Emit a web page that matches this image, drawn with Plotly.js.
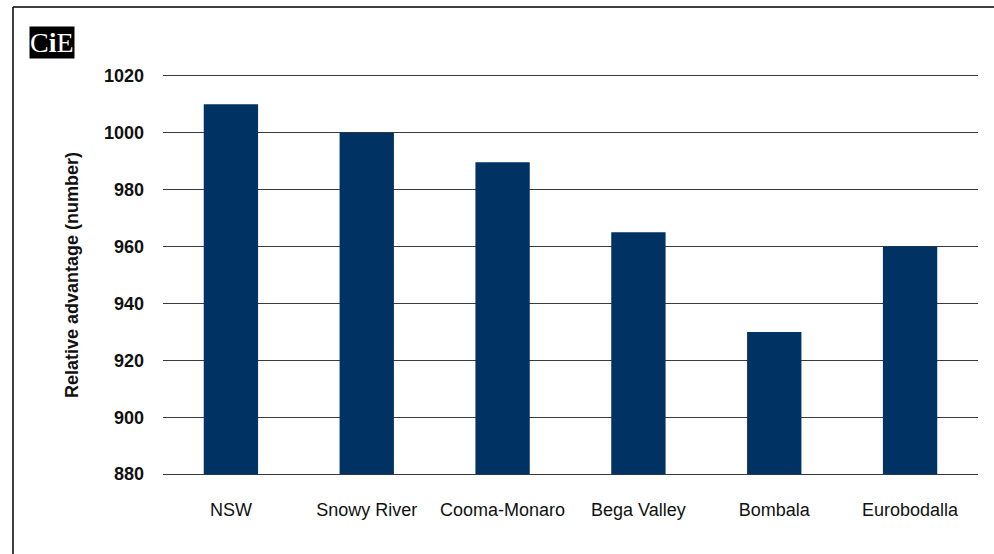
<!DOCTYPE html>
<html>
<head>
<meta charset="utf-8">
<script src="https://cdn.plot.ly/plotly-3.0.1.min.js"></script>
<style>
  html, body { margin: 0; padding: 0; background: #ffffff; }
  #chart { width: 994px; height: 554px; }
</style>
</head>
<body>
<div id="chart"></div>
<script>
const categories = ['NSW', 'Snowy River', 'Cooma-Monaro', 'Bega Valley', 'Bombala', 'Eurobodalla'];
const values = [1010, 1000, 989.6, 965, 930, 960];
const yTickVals = [880, 900, 920, 940, 960, 980, 1000, 1020];
const yTitle = 'Relative advantage (number)';
const logoText = 'C<b>i</b>E';
const axisBase = yTickVals[0];

const W = 994, H = 554;
const M = { l: 163, r: 16, t: 73, b: 77 };
const pw = W - M.l - M.r, ph = H - M.t - M.b;
const px = x => (x - M.l) / pw;           // pixel -> paper x
const py = y => (H - M.b - y) / ph;        // pixel -> paper y

const trace = {
  type: 'bar',
  x: categories,
  y: values.map(v => v - axisBase),
  base: axisBase,
  customdata: values,
  marker: { color: '#003264', line: { width: 0 } },
  hovertemplate: '%{x}: %{customdata}<extra></extra>'
};

const layout = {
  width: W, height: H,
  margin: M,
  paper_bgcolor: '#ffffff',
  plot_bgcolor: '#ffffff',
  showlegend: false,
  bargap: 0.6,
  font: { family: 'Liberation Sans, Arial, sans-serif', color: '#111' },
  xaxis: {
    type: 'category',
    showgrid: false,
    zeroline: false,
    showline: false,
    ticks: '',
    ticklabelstandoff: 20,
    tickfont: { size: 18, color: '#111' }
  },
  yaxis: {
    range: [879, 1021],
    tickvals: yTickVals,
    ticktext: yTickVals.map(String),
    showgrid: true,
    gridcolor: '#3a3a3a',
    gridwidth: 1,
    zeroline: false,
    showline: false,
    ticks: '',
    ticklabelstandoff: 18,
    tickfont: { size: 18, color: '#111', weight: 'bold' },
    title: { text: '<b>' + yTitle + '</b>', font: { size: 18, color: '#111' }, standoff: 20 }
  },
  shapes: [
    { type: 'line', xref: 'paper', yref: 'paper', x0: px(13), x1: px(13), y0: py(7), y1: py(H + 2), line: { color: '#000', width: 1.5 } },
    { type: 'line', xref: 'paper', yref: 'paper', x0: px(13), x1: px(W + 2), y0: py(7), y1: py(7), line: { color: '#000', width: 1.5 } }
  ],
  annotations: [
    {
      xref: 'paper', yref: 'paper',
      x: px(29), y: py(26),
      xanchor: 'left', yanchor: 'top',
      text: logoText,
      showarrow: false,
      bgcolor: '#000000',
      borderpad: 0,
      font: { family: 'Liberation Serif, Times New Roman, serif', size: 28, color: '#ffffff' }
    }
  ]
};

Plotly.newPlot('chart', [trace], layout, { displayModeBar: false, responsive: false });
</script>
</body>
</html>
